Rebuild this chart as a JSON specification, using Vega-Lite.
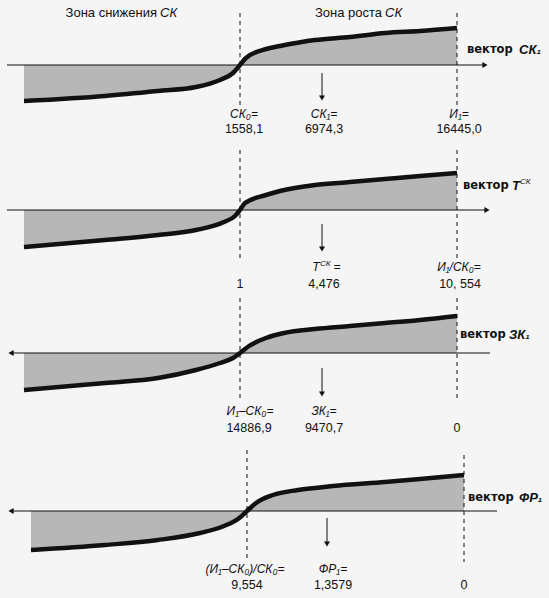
{
  "$schema": "https://vega.github.io/schema/vega-lite/v6.json",
  "autosize": {"type": "fit", "contains": "padding"},
  "width": 549,
  "height": 598,
  "padding": 0,
  "background": "#f5f5f5",
  "config": {"view": {"stroke": null}, "text": {"font": "Liberation Sans", "color": "#111111"}},
  "data": {
    "values": [
      {"k": "curve", "p": 1, "x": 24, "y": 101, "b": 65},
      {"k": "curve", "p": 1, "x": 105, "y": 96, "b": 65},
      {"k": "curve", "p": 1, "x": 158, "y": 91, "b": 65},
      {"k": "curve", "p": 1, "x": 196, "y": 87, "b": 65},
      {"k": "curve", "p": 1, "x": 220, "y": 80, "b": 65},
      {"k": "curve", "p": 1, "x": 233, "y": 73, "b": 65},
      {"k": "curve", "p": 1, "x": 240, "y": 65, "b": 65},
      {"k": "curve", "p": 1, "x": 246, "y": 58, "b": 65},
      {"k": "curve", "p": 1, "x": 266, "y": 49, "b": 65},
      {"k": "curve", "p": 1, "x": 280, "y": 46, "b": 65},
      {"k": "curve", "p": 1, "x": 315, "y": 40, "b": 65},
      {"k": "curve", "p": 1, "x": 350, "y": 37, "b": 65},
      {"k": "curve", "p": 1, "x": 385, "y": 33, "b": 65},
      {"k": "curve", "p": 1, "x": 420, "y": 31, "b": 65},
      {"k": "curve", "p": 1, "x": 457, "y": 28, "b": 65},

      {"k": "curve", "p": 2, "x": 24, "y": 247, "b": 210},
      {"k": "curve", "p": 2, "x": 105, "y": 240, "b": 210},
      {"k": "curve", "p": 2, "x": 158, "y": 235, "b": 210},
      {"k": "curve", "p": 2, "x": 196, "y": 230, "b": 210},
      {"k": "curve", "p": 2, "x": 224, "y": 222, "b": 210},
      {"k": "curve", "p": 2, "x": 235, "y": 216, "b": 210},
      {"k": "curve", "p": 2, "x": 240, "y": 210, "b": 210},
      {"k": "curve", "p": 2, "x": 245, "y": 203, "b": 210},
      {"k": "curve", "p": 2, "x": 266, "y": 195, "b": 210},
      {"k": "curve", "p": 2, "x": 280, "y": 191, "b": 210},
      {"k": "curve", "p": 2, "x": 315, "y": 185, "b": 210},
      {"k": "curve", "p": 2, "x": 350, "y": 182, "b": 210},
      {"k": "curve", "p": 2, "x": 385, "y": 179, "b": 210},
      {"k": "curve", "p": 2, "x": 420, "y": 176, "b": 210},
      {"k": "curve", "p": 2, "x": 457, "y": 173, "b": 210},

      {"k": "curve", "p": 3, "x": 24, "y": 390, "b": 353},
      {"k": "curve", "p": 3, "x": 105, "y": 383, "b": 353},
      {"k": "curve", "p": 3, "x": 158, "y": 378, "b": 353},
      {"k": "curve", "p": 3, "x": 196, "y": 370, "b": 353},
      {"k": "curve", "p": 3, "x": 220, "y": 363, "b": 353},
      {"k": "curve", "p": 3, "x": 233, "y": 358, "b": 353},
      {"k": "curve", "p": 3, "x": 240, "y": 353, "b": 353},
      {"k": "curve", "p": 3, "x": 249, "y": 346, "b": 353},
      {"k": "curve", "p": 3, "x": 266, "y": 338, "b": 353},
      {"k": "curve", "p": 3, "x": 284, "y": 333, "b": 353},
      {"k": "curve", "p": 3, "x": 315, "y": 329, "b": 353},
      {"k": "curve", "p": 3, "x": 350, "y": 326, "b": 353},
      {"k": "curve", "p": 3, "x": 385, "y": 323, "b": 353},
      {"k": "curve", "p": 3, "x": 420, "y": 320, "b": 353},
      {"k": "curve", "p": 3, "x": 457, "y": 316, "b": 353},

      {"k": "curve", "p": 4, "x": 31, "y": 550, "b": 511},
      {"k": "curve", "p": 4, "x": 105, "y": 545, "b": 511},
      {"k": "curve", "p": 4, "x": 158, "y": 540, "b": 511},
      {"k": "curve", "p": 4, "x": 200, "y": 533, "b": 511},
      {"k": "curve", "p": 4, "x": 224, "y": 526, "b": 511},
      {"k": "curve", "p": 4, "x": 238, "y": 519, "b": 511},
      {"k": "curve", "p": 4, "x": 247, "y": 511, "b": 511},
      {"k": "curve", "p": 4, "x": 256, "y": 503, "b": 511},
      {"k": "curve", "p": 4, "x": 273, "y": 495, "b": 511},
      {"k": "curve", "p": 4, "x": 298, "y": 490, "b": 511},
      {"k": "curve", "p": 4, "x": 333, "y": 486, "b": 511},
      {"k": "curve", "p": 4, "x": 385, "y": 482, "b": 511},
      {"k": "curve", "p": 4, "x": 420, "y": 479, "b": 511},
      {"k": "curve", "p": 4, "x": 464, "y": 475, "b": 511},

      {"k": "axis", "x": 7, "x2": 486, "y": 65},
      {"k": "axis", "x": 7, "x2": 488, "y": 210},
      {"k": "axis", "x": 10, "x2": 490, "y": 353},
      {"k": "axis", "x": 10, "x2": 497, "y": 511},
      {"k": "axis", "x": 322, "x2": 322, "y": 73, "y2": 98},
      {"k": "axis", "x": 322, "x2": 322, "y": 224, "y2": 249},
      {"k": "axis", "x": 322, "x2": 322, "y": 368, "y2": 394},
      {"k": "axis", "x": 327, "x2": 327, "y": 518, "y2": 544},

      {"k": "head", "dir": "right", "x": 485, "y": 65},
      {"k": "head", "dir": "right", "x": 487, "y": 210},
      {"k": "head", "dir": "left", "x": 11, "y": 353},
      {"k": "head", "dir": "left", "x": 11, "y": 511},
      {"k": "head", "dir": "down", "x": 322, "y": 98},
      {"k": "head", "dir": "down", "x": 322, "y": 249},
      {"k": "head", "dir": "down", "x": 322, "y": 394},
      {"k": "head", "dir": "down", "x": 327, "y": 544},

      {"k": "dash", "x": 240, "y": 13, "y2": 107},
      {"k": "dash", "x": 457, "y": 13, "y2": 108},
      {"k": "dash", "x": 240, "y": 150, "y2": 258},
      {"k": "dash", "x": 457, "y": 150, "y2": 259},
      {"k": "dash", "x": 240, "y": 298, "y2": 402},
      {"k": "dash", "x": 457, "y": 298, "y2": 400},
      {"k": "dash", "x": 247, "y": 450, "y2": 561},
      {"k": "dash", "x": 464, "y": 455, "y2": 562},

      {"k": "tr", "x": 157, "y": 13, "t": "Зона снижения"},
      {"k": "tl", "x": 160, "y": 13, "t": "СК"},
      {"k": "tr", "x": 382, "y": 13, "t": "Зона роста"},
      {"k": "tl", "x": 385, "y": 13, "t": "СК"},

      {"k": "ti", "x": 244, "y": 114, "t": "СК₀="},
      {"k": "t", "x": 244, "y": 129, "t": "1558,1"},
      {"k": "ti", "x": 324, "y": 114, "t": "СК₁="},
      {"k": "t", "x": 324, "y": 129, "t": "6974,3"},
      {"k": "ti", "x": 459, "y": 114, "t": "И₁="},
      {"k": "t", "x": 459, "y": 129, "t": "16445,0"},

      {"k": "ti", "x": 316, "y": 267, "t": "Т"},
      {"k": "sup", "x": 320, "y": 264, "t": "СК"},
      {"k": "ti", "x": 337, "y": 267, "t": "="},
      {"k": "t", "x": 324, "y": 284, "t": "4,476"},
      {"k": "t", "x": 240, "y": 284, "t": "1"},
      {"k": "ti", "x": 459, "y": 267, "t": "И₁/СК₀="},
      {"k": "t", "x": 460, "y": 284, "t": "10, 554"},

      {"k": "ti", "x": 250, "y": 411, "t": "И₁–СК₀="},
      {"k": "t", "x": 249, "y": 428, "t": "14886,9"},
      {"k": "ti", "x": 324, "y": 411, "t": "ЗК₁="},
      {"k": "t", "x": 324, "y": 428, "t": "9470,7"},
      {"k": "t", "x": 457, "y": 428, "t": "0"},

      {"k": "ti", "x": 245, "y": 569, "t": "(И₁–СК₀)/СК₀="},
      {"k": "t", "x": 247, "y": 585, "t": "9,554"},
      {"k": "ti", "x": 333, "y": 569, "t": "ФР₁="},
      {"k": "t", "x": 333, "y": 585, "t": "1,3579"},
      {"k": "t", "x": 464, "y": 585, "t": "0"},

      {"k": "vb", "x": 467, "y": 50, "t": "вектор"},
      {"k": "vbi", "x": 519, "y": 50, "t": "СК₁"},
      {"k": "vb", "x": 463, "y": 186, "t": "вектор"},
      {"k": "vbi", "x": 512, "y": 186, "t": "Т"},
      {"k": "sup", "x": 520, "y": 182, "t": "СК"},
      {"k": "vb", "x": 460, "y": 335, "t": "вектор"},
      {"k": "vbi", "x": 509, "y": 335, "t": "ЗК₁"},
      {"k": "vb", "x": 468, "y": 498, "t": "вектор"},
      {"k": "vbi", "x": 519, "y": 498, "t": "ФР₁"}
    ]
  },
  "encoding": {
    "x": {"field": "x", "type": "quantitative", "scale": {"domain": [0, 549], "nice": false, "zero": false}, "axis": null},
    "y": {"field": "y", "type": "quantitative", "scale": {"domain": [598, 0], "nice": false, "zero": false}, "axis": null}
  },
  "layer": [
    {
      "transform": [{"filter": "datum.k === 'curve'"}],
      "mark": {"type": "area", "interpolate": "monotone", "fill": "#b7b7b7"},
      "encoding": {"y2": {"field": "b"}, "detail": {"field": "p"}}
    },
    {
      "transform": [{"filter": "datum.k === 'axis'"}],
      "mark": {"type": "rule", "stroke": "#111111", "strokeWidth": 1},
      "encoding": {"x2": {"field": "x2"}, "y2": {"field": "y2"}}
    },
    {
      "transform": [{"filter": "datum.k === 'curve'"}],
      "mark": {"type": "line", "interpolate": "monotone", "stroke": "#111111", "strokeWidth": 4.5},
      "encoding": {"detail": {"field": "p"}}
    },
    {
      "transform": [{"filter": "datum.k === 'dash'"}],
      "mark": {"type": "rule", "stroke": "#111111", "strokeWidth": 1, "strokeDash": [4, 4]},
      "encoding": {"y2": {"field": "y2"}}
    },
    {
      "transform": [{"filter": "datum.k === 'head'"}],
      "mark": {"type": "point", "filled": true, "color": "#111111", "size": 36, "opacity": 1},
      "encoding": {
        "shape": {"field": "dir", "type": "nominal", "legend": null,
          "scale": {"domain": ["right", "left", "down"], "range": ["triangle-right", "triangle-left", "triangle-down"]}}
      }
    },
    {
      "transform": [{"filter": "datum.k === 't'"}],
      "mark": {"type": "text", "fontSize": 12.5, "baseline": "middle", "align": "center"},
      "encoding": {"text": {"field": "t"}}
    },
    {
      "transform": [{"filter": "datum.k === 'ti'"}],
      "mark": {"type": "text", "fontSize": 12, "fontStyle": "italic", "baseline": "middle", "align": "center"},
      "encoding": {"text": {"field": "t"}}
    },
    {
      "transform": [{"filter": "datum.k === 'tr'"}],
      "mark": {"type": "text", "fontSize": 13, "baseline": "middle", "align": "right"},
      "encoding": {"text": {"field": "t"}}
    },
    {
      "transform": [{"filter": "datum.k === 'tl'"}],
      "mark": {"type": "text", "fontSize": 13, "fontStyle": "italic", "baseline": "middle", "align": "left"},
      "encoding": {"text": {"field": "t"}}
    },
    {
      "transform": [{"filter": "datum.k === 'sup'"}],
      "mark": {"type": "text", "fontSize": 8, "fontStyle": "italic", "baseline": "middle", "align": "left"},
      "encoding": {"text": {"field": "t"}}
    },
    {
      "transform": [{"filter": "datum.k === 'vb'"}],
      "mark": {"type": "text", "font": "DejaVu Sans", "fontSize": 11.5, "fontWeight": "bold", "baseline": "middle", "align": "left"},
      "encoding": {"text": {"field": "t"}}
    },
    {
      "transform": [{"filter": "datum.k === 'vbi'"}],
      "mark": {"type": "text", "fontSize": 13, "fontWeight": "bold", "fontStyle": "italic", "baseline": "middle", "align": "left"},
      "encoding": {"text": {"field": "t"}}
    }
  ]
}
